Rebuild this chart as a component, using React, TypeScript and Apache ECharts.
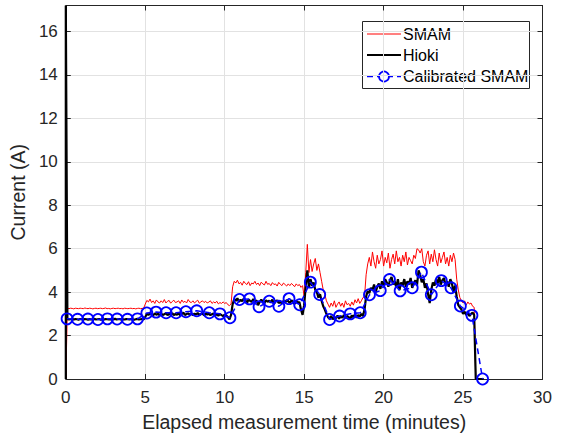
import React, { useEffect, useRef } from "react";
import * as echarts from "echarts";

// Sampling step of the measured traces (minutes)
const STEP = 0.1;

// SMAM current (A), one value every 0.1 min from t = 0
const smamCurrent = [
  0, 3.25, 3.24, 3.26, 3.25, 3.23, 3.26, 3.25, 3.24, 3.26,
  3.25, 3.24, 3.27, 3.25, 3.24, 3.26, 3.25, 3.23, 3.25, 3.26,
  3.24, 3.25, 3.26, 3.24, 3.25, 3.27, 3.24, 3.25, 3.23, 3.25,
  3.26, 3.24, 3.25, 3.26, 3.24, 3.25, 3.23, 3.26, 3.25, 3.24,
  3.25, 3.26, 3.24, 3.25, 3.23, 3.25, 3.26, 3.24, 3.25, 3.26,
  3.45, 3.62, 3.55, 3.68, 3.52, 3.6, 3.48, 3.64, 3.55, 3.5,
  3.6, 3.52, 3.66, 3.5, 3.58, 3.62, 3.49, 3.57, 3.63, 3.52,
  3.55, 3.6, 3.48, 3.64, 3.53, 3.58, 3.5, 3.66, 3.55, 3.52,
  3.6, 3.5, 3.57, 3.63, 3.49, 3.55, 3.6, 3.52, 3.58, 3.5,
  3.54, 3.6, 3.48, 3.55, 3.5, 3.58, 3.46, 3.52, 3.48, 3.55,
  3.48, 3.52, 3.42, 3.38, 3.45, 4.25, 4.5, 4.42, 4.55, 4.38,
  4.45, 4.32, 4.5, 4.4, 4.35, 4.48, 4.3, 4.42, 4.38, 4.5,
  4.35, 4.42, 4.3, 4.46, 4.38, 4.33, 4.5, 4.36, 4.4, 4.3,
  4.44, 4.35, 4.38, 4.28, 4.45, 4.36, 4.3, 4.42, 4.35, 4.28,
  4.38, 4.3, 4.4, 4.33, 4.25, 4.38, 4.3, 4.35, 4.22, 4.3,
  3.8, 4.9, 6.2, 4.9, 5.5, 4.95, 5.3, 5.55, 5.0, 5.3,
  4.9, 4.5, 4.1, 3.9, 3.6, 3.45, 3.3, 3.5, 3.35, 3.6,
  3.3, 3.45, 3.55, 3.35, 3.5, 3.3, 3.6, 3.42, 3.48, 3.35,
  3.55, 3.4, 3.65, 3.5, 3.7, 3.48, 3.6, 3.75, 3.8, 4.8,
  5.3, 5.6, 5.2, 5.85, 5.4, 5.1, 5.7, 5.3, 5.5, 5.9,
  5.2, 5.6, 5.35, 5.8, 5.1, 5.5, 5.75, 5.3, 5.9, 5.4,
  5.6, 5.2, 5.7, 5.4, 5.85, 5.25, 5.6, 5.45, 5.3, 5.7,
  5.55, 6.0, 5.95, 5.8, 6.0, 5.4, 5.2, 5.7, 5.9, 5.3,
  5.75, 5.4, 5.95, 5.5, 5.2, 5.8, 5.35, 5.6, 5.85, 5.3,
  5.6, 5.2, 5.7, 5.4, 5.8, 5.5, 4.6, 4.1, 3.75, 3.6,
  3.5, 3.6, 3.4, 3.55, 3.45, 3.5, 3.35, 3.3, 0,
];

// Hioki reference current (A), one value every 0.1 min from t = 0
const hiokiCurrent = [
  17.2, 2.76, 2.74, 2.75, 2.77, 2.74, 2.76, 2.75, 2.73, 2.76,
  2.75, 2.74, 2.76, 2.75, 2.73, 2.76, 2.74, 2.75, 2.77, 2.74,
  2.75, 2.76, 2.73, 2.75, 2.74, 2.76, 2.75, 2.74, 2.76, 2.73,
  2.75, 2.77, 2.74, 2.75, 2.76, 2.73, 2.75, 2.74, 2.76, 2.75,
  2.74, 2.76, 2.75, 2.73, 2.75, 2.77, 2.74, 2.75, 2.76, 2.74,
  2.85, 3.0, 2.95, 3.03, 2.97, 2.93, 3.02, 2.96, 3.0, 2.94,
  3.01, 2.95, 2.98, 3.04, 2.94, 3.0, 2.97, 3.03, 2.95, 2.99,
  2.96, 3.02, 2.94, 3.0, 3.05, 2.95, 2.99, 3.02, 2.96, 3.0,
  2.94, 3.01, 2.97, 3.04, 2.95, 2.99, 3.02, 2.93, 3.0, 2.97,
  3.0, 2.94, 2.98, 3.02, 2.95, 2.97, 2.92, 2.99, 2.94, 2.9,
  2.96, 2.92, 2.85, 2.75, 2.95, 3.45, 3.68, 3.6, 3.72, 3.55,
  3.65, 3.58, 3.7, 3.62, 3.5, 3.66, 3.6, 3.55, 3.68, 3.58,
  3.62, 3.4, 3.55, 3.65, 3.58, 3.5, 3.63, 3.56, 3.6, 3.52,
  3.66, 3.45, 3.58, 3.62, 3.5, 3.55, 3.48, 3.6, 3.52, 3.63,
  3.58, 3.5, 3.62, 3.55, 3.45, 3.6, 3.5, 3.55, 3.2, 2.95,
  3.4, 4.3, 5.0, 4.2, 4.6, 4.3, 4.45, 4.1, 4.0, 3.75,
  3.9, 3.6, 3.35, 3.2, 3.0, 2.85, 2.78, 2.9, 2.75, 2.85,
  2.8, 2.92, 2.78, 2.88, 2.82, 2.95, 2.8, 2.9, 2.85, 2.78,
  2.92, 2.85, 2.98, 2.82, 2.95, 2.88, 3.0, 2.9, 3.2, 3.8,
  4.05, 3.95, 4.2, 4.1, 4.35, 4.0, 4.25, 4.4, 4.15, 4.5,
  4.3, 4.6, 4.45, 4.25, 4.55, 4.7, 4.35, 4.5, 4.2, 4.6,
  4.1, 4.45, 4.3, 4.6, 4.25, 4.5, 4.35, 4.65, 4.2, 4.4,
  4.55, 4.3, 5.0, 4.8, 4.45, 4.6, 4.2, 4.4, 3.9, 3.5,
  4.1, 4.45, 4.3, 4.6, 4.4, 4.7, 4.35, 4.55, 4.65, 4.3,
  4.5, 4.25, 4.6, 4.4, 4.0, 4.3, 3.8, 3.4, 3.3, 3.2,
  3.0, 3.1, 2.95, 3.05, 2.9, 3.0, 3.05, 2.95, 0, 0,
  0, 0, 0, 0,
];

// Calibrated SMAM samples (markers)
const calibratedTime = [
  0.08, 0.74, 1.39, 2.02, 2.62, 3.23, 3.88, 4.51, 5.1, 5.68,
  6.31, 6.94, 7.56, 8.24, 9.03, 9.7, 10.33, 10.93, 11.56, 12.16,
  12.8, 13.41, 14.05, 14.72, 15.39, 15.98, 16.6, 17.23, 17.9, 18.53,
  19.11, 19.79, 20.37, 21.04, 21.8, 22.38, 23.0, 23.63, 24.24, 24.83,
  25.56, 26.23,
];
const calibratedCurrent = [
  2.77, 2.75, 2.76, 2.74, 2.77, 2.76, 2.75, 2.77, 3.04, 3.08,
  3.05, 3.05, 3.1, 3.14, 3.05, 3.0, 2.82, 3.66, 3.69, 3.33,
  3.58, 3.35, 3.7, 3.42, 4.46, 3.89, 2.74, 2.9, 3.0, 3.05,
  3.88, 4.07, 4.58, 4.06, 4.2, 4.92, 3.88, 4.53, 4.2, 3.36,
  2.93, 0,
];

const X_MIN = 0;
const X_MAX = 30;
const X_INTERVAL = 5;
const Y_MIN = 0;
const Y_MAX = 17.2;
const Y_INTERVAL = 2;

const FONT = "Liberation Sans, Arial, Helvetica, sans-serif";
const AXIS_COLOR = "#262626";
const GRID_COLOR = "#e2e2e2";

export default function App() {
  const ref = useRef<HTMLDivElement>(null);

  useEffect(() => {
    const chart = echarts.init(ref.current!, null, { renderer: "svg" });

    const smamData = smamCurrent.map((v, i) => [Math.round(i * STEP * 100) / 100, v]);
    const hiokiData = [[0, 0], ...hiokiCurrent.map((v, i) => [Math.round(i * STEP * 100) / 100, v])];
    const calData = calibratedTime.map((t, i) => [t, calibratedCurrent[i]]);

    const tickCommon = {
      inside: true,
      length: 5,
      lineStyle: { color: AXIS_COLOR, width: 1 },
    };

    const legendX = 362.5;
    const legendY = 21.5;
    const rows = [34, 55, 76.5];
    const legendFont = `16px ${FONT}`;

    chart.setOption({
      animation: false,
      backgroundColor: "#ffffff",
      grid: { left: 65.5, right: 20.5, top: 5.5, bottom: 56.5, containLabel: false },
      xAxis: [
        {
          type: "value",
          min: X_MIN,
          max: X_MAX,
          interval: X_INTERVAL,
          name: "Elapsed measurement time (minutes)",
          nameLocation: "middle",
          nameGap: 33,
          nameTextStyle: { fontFamily: FONT, fontSize: 19.5, color: AXIS_COLOR },
          axisLine: { show: true, onZero: false, lineStyle: { color: AXIS_COLOR, width: 1 } },
          axisTick: tickCommon,
          axisLabel: { fontFamily: FONT, fontSize: 17, color: AXIS_COLOR, margin: 10 },
          splitLine: { show: true, lineStyle: { color: GRID_COLOR, width: 1 } },
        },
        {
          type: "value",
          position: "top",
          min: X_MIN,
          max: X_MAX,
          interval: X_INTERVAL,
          axisLine: { show: true, onZero: false, lineStyle: { color: AXIS_COLOR, width: 1 } },
          axisTick: tickCommon,
          axisLabel: { show: false },
          splitLine: { show: false },
        },
      ],
      yAxis: [
        {
          type: "value",
          min: Y_MIN,
          max: Y_MAX,
          interval: Y_INTERVAL,
          name: "Current (A)",
          nameLocation: "middle",
          nameGap: 31,
          nameTextStyle: { fontFamily: FONT, fontSize: 19.5, color: AXIS_COLOR },
          axisLine: { show: true, onZero: false, lineStyle: { color: AXIS_COLOR, width: 1 } },
          axisTick: tickCommon,
          axisLabel: { fontFamily: FONT, fontSize: 17, color: AXIS_COLOR, margin: 8, showMaxLabel: false },
          splitLine: { show: true, lineStyle: { color: GRID_COLOR, width: 1 } },
        },
        {
          type: "value",
          position: "right",
          min: Y_MIN,
          max: Y_MAX,
          interval: Y_INTERVAL,
          axisLine: { show: true, onZero: false, lineStyle: { color: AXIS_COLOR, width: 1 } },
          axisTick: tickCommon,
          axisLabel: { show: false },
          splitLine: { show: false },
        },
      ],
      series: [
        {
          name: "SMAM",
          type: "line",
          data: smamData,
          showSymbol: false,
          symbol: "none",
          lineStyle: { color: "#ff0000", width: 1 },
          itemStyle: { color: "#ff0000" },
          clip: true,
          z: 2,
        },
        {
          name: "Hioki",
          type: "line",
          data: hiokiData,
          showSymbol: false,
          symbol: "none",
          lineStyle: { color: "#000000", width: 2.2 },
          itemStyle: { color: "#000000" },
          clip: false,
          z: 3,
        },
        {
          name: "Calibrated SMAM",
          type: "line",
          data: calData,
          symbol: "circle",
          symbolSize: 11,
          showAllSymbol: true,
          lineStyle: { color: "#0000ff", width: 1.5, type: [6, 4] },
          itemStyle: { color: "rgba(0,0,0,0)", borderColor: "#0000ff", borderWidth: 1.8 },
          clip: false,
          z: 4,
        },
      ],
      graphic: [
        {
          type: "group",
          z: 100,
          children: [
            {
              type: "rect",
              shape: { x: legendX, y: legendY, width: 167, height: 67 },
              style: { fill: "#ffffff", stroke: AXIS_COLOR, lineWidth: 1 },
            },
            {
              type: "line",
              shape: { x1: 367, y1: rows[0], x2: 401, y2: rows[0] },
              style: { stroke: "#ff0000", lineWidth: 1 },
            },
            {
              type: "line",
              shape: { x1: 367, y1: rows[1], x2: 401, y2: rows[1] },
              style: { stroke: "#000000", lineWidth: 2 },
            },
            {
              type: "line",
              shape: { x1: 367, y1: rows[2], x2: 401, y2: rows[2] },
              style: { stroke: "#0000ff", lineWidth: 1.5, lineDash: [6, 4] },
            },
            {
              type: "circle",
              shape: { cx: 384, cy: rows[2], r: 5 },
              style: { fill: "#ffffff", stroke: "#0000ff", lineWidth: 1.8 },
            },
            {
              type: "text",
              x: 403,
              y: rows[0],
              style: { text: "SMAM", font: legendFont, fill: "#000000", verticalAlign: "middle" },
            },
            {
              type: "text",
              x: 403,
              y: rows[1],
              style: { text: "Hioki", font: legendFont, fill: "#000000", verticalAlign: "middle" },
            },
            {
              type: "text",
              x: 403,
              y: rows[2],
              style: { text: "Calibrated SMAM", font: legendFont, fill: "#000000", verticalAlign: "middle" },
            },
          ],
        },
      ],
    });

    return () => chart.dispose();
  }, []);

  return (
    <div
      ref={ref}
      style={{ position: "fixed", left: 0, top: 0, width: 563, height: 437, background: "#ffffff" }}
    />
  );
}
